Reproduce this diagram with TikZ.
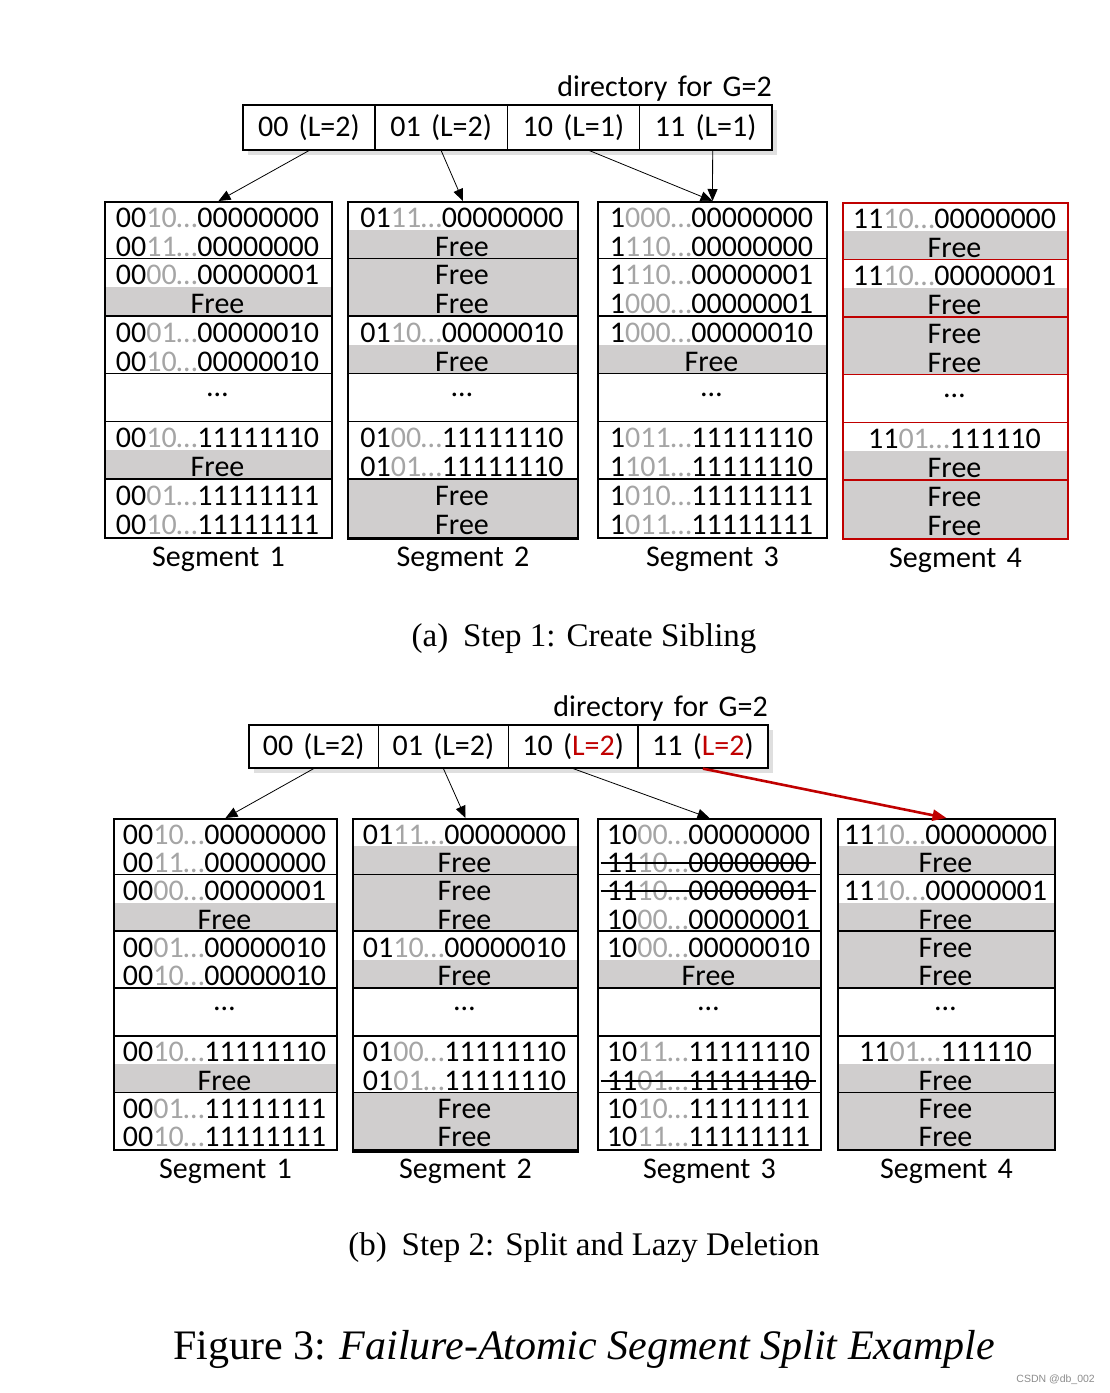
\documentclass[tikz,border=0pt]{standalone}
\usepackage{fontspec}
\usepackage{xcolor}
\usepackage{tikz}
\usetikzlibrary{arrows.meta,positioning,shadows}
\setmainfont{Liberation Serif}
\newfontfamily\calfont[WordSpace=1.5]{Carlito}
\newfontfamily\wmfont{Liberation Sans}
\definecolor{freeGray}{RGB}{208,206,206}
\definecolor{keyGray}{RGB}{165,165,165}
\definecolor{splitRed}{RGB}{192,0,0}
\definecolor{wmGray}{RGB}{140,140,140}

% key text: black prefix, gray hash bits, suffix
\newcommand{\kt}[3]{#1\textcolor{keyGray}{#2…}#3}
% name, x left, x right, y top, slot height, colour, label, slots
\newcommand{\drawsegment}[8]{%
  \foreach \kind/\txt [count=\i] in {#8} {
    \pgfmathsetmacro\st{#4+(\i-1)*#5+(\i>7)*(48-#5)}
    \pgfmathsetmacro\sb{\st+#5+(\i==7)*(48-#5)}
    \if f\kind \fill[freeGray] (#2,\st) rectangle (#3,\sb); \fi
    \if d\kind
      \node[segText] (#1-\i) at ({(#2+#3)/2},{(\st+\sb)/2-3}) {\txt};
    \else
      \node[segText, anchor=base] (#1-\i) at ({(#2+#3)/2},{(\st+\sb)/2+12}) {\txt};
    \fi
    \if s\kind
      \draw[strikeLine] ([xshift=-6pt,yshift=9.5pt]#1-\i.base west) -- ([xshift=6pt,yshift=9.5pt]#1-\i.base east);
    \fi
  }
  \foreach \g in {2,4,6,7,9} {
    \pgfmathsetmacro\sy{#4+\g*#5+(\g>6)*(48-#5)}
    \draw[#6, line width=1.6pt] (#2,\sy) -- (#3,\sy);
  }
  \node[segFrame, draw=#6, minimum width={#3-#2}, minimum height={10*#5+48}] (#1) at (#2,#4) {};
  \node[segText, below=8pt of #1] (#1-lab) {#7};
}

\begin{document}
\begin{tikzpicture}[x=1pt, y=-1pt,
  segText/.style={font=\calfont\fontsize{30}{30}\selectfont, inner sep=0pt},
  segFrame/.style={draw, line width=2pt, inner sep=0pt, anchor=north west},
  dirCell/.style={draw, fill=white, line width=1.6pt, inner sep=0pt, anchor=north west,
    font=\calfont\fontsize{30}{30}\selectfont,
    drop shadow={opacity=0.25, shadow xshift=5pt, shadow yshift=-5pt}},
  strikeLine/.style={line width=1.8pt},
  link/.style={-{Triangle[length=12pt,width=10pt]}, line width=0.8pt},
  redLink/.style={-{Triangle[length=14pt,width=11pt]}, splitRed, line width=2.6pt},
  capText/.style={font=\fontsize{33}{33}\selectfont, inner sep=0pt, anchor=base}]
\useasboundingbox (0,0) rectangle (1110,1393);

% (a) step 1
\node[segText, anchor=base east] (dirA) at (772,96) {directory for G=2};
\foreach \lab [count=\i] in {00 (L=2),01 (L=2),10 (L=1),11 (L=1)}
  \node[dirCell, minimum width=132.25pt, minimum height=45pt] (da\i) at ({242+(\i-1)*132.25},104) {\lab};

\drawsegment{a1}{104}{331}{201}{28.75}{black}{Segment 1}{%
  k/\kt{00}{10}{00000000}, k/\kt{00}{11}{00000000},
  k/\kt{00}{00}{00000001}, f/Free,
  k/\kt{00}{01}{00000010}, k/\kt{00}{10}{00000010},
  d/…,
  k/\kt{00}{10}{11111110}, f/Free,
  k/\kt{00}{01}{11111111}, k/\kt{00}{10}{11111111}}
\drawsegment{a2}{347}{577}{201}{28.75}{black}{Segment 2}{%
  k/\kt{01}{11}{00000000}, f/Free,
  f/Free, f/Free,
  k/\kt{01}{10}{00000010}, f/Free,
  d/…,
  k/\kt{01}{00}{11111110}, k/\kt{01}{01}{11111110},
  f/Free, f/Free}
\draw[line width=3pt] (a2.south west) -- (a2.south east);
\drawsegment{a3}{597}{826}{201}{28.75}{black}{Segment 3}{%
  k/\kt{1}{000}{00000000}, k/\kt{1}{110}{00000000},
  k/\kt{1}{110}{00000001}, k/\kt{1}{000}{00000001},
  k/\kt{1}{000}{00000010}, f/Free,
  d/…,
  k/\kt{1}{011}{11111110}, k/\kt{1}{101}{11111110},
  k/\kt{1}{010}{11111111}, k/\kt{1}{011}{11111111}}
\drawsegment{a4}{842}{1067}{202}{28.75}{splitRed}{Segment 4}{%
  k/\kt{11}{10}{00000000}, f/Free,
  k/\kt{11}{10}{00000001}, f/Free,
  f/Free, f/Free,
  d/…,
  k/\kt{11}{01}{111110}, f/Free,
  f/Free, f/Free}

\draw[link] (da1.south) -- (a1.north);
\draw[link] (da2.south) -- (a2.north);
\draw[link] ([xshift=16pt]da3.south) -- (a3.north);
\draw[link] ([xshift=7pt]da4.south) -- (a3.north);

\node[capText] (capA) at (584,646) {(a)\hspace{0.45em}Step 1: Create Sibling};

% (b) step 2
\node[segText, anchor=base east] (dirB) at (768,716) {directory for G=2};
\foreach \lab [count=\i] in {00 (L=2),01 (L=2),10 (\textcolor{splitRed}{L=2}),11 (\textcolor{splitRed}{L=2})}
  \node[dirCell, minimum width=129.75pt, minimum height=43pt] (db\i) at ({248+(\i-1)*129.75},724) {\lab};

\drawsegment{b1}{113}{336}{818}{28.3}{black}{Segment 1}{%
  k/\kt{00}{10}{00000000}, k/\kt{00}{11}{00000000},
  k/\kt{00}{00}{00000001}, f/Free,
  k/\kt{00}{01}{00000010}, k/\kt{00}{10}{00000010},
  d/…,
  k/\kt{00}{10}{11111110}, f/Free,
  k/\kt{00}{01}{11111111}, k/\kt{00}{10}{11111111}}
\drawsegment{b2}{352}{577}{818}{28.3}{black}{Segment 2}{%
  k/\kt{01}{11}{00000000}, f/Free,
  f/Free, f/Free,
  k/\kt{01}{10}{00000010}, f/Free,
  d/…,
  k/\kt{01}{00}{11111110}, k/\kt{01}{01}{11111110},
  f/Free, f/Free}
\draw[line width=3pt] (b2.south west) -- (b2.south east);
\drawsegment{b3}{597}{820}{818}{28.3}{black}{Segment 3}{%
  k/\kt{10}{00}{00000000}, s/\kt{11}{10}{00000000},
  s/\kt{11}{10}{00000001}, k/\kt{10}{00}{00000001},
  k/\kt{10}{00}{00000010}, f/Free,
  d/…,
  k/\kt{10}{11}{11111110}, s/\kt{11}{01}{11111110},
  k/\kt{10}{10}{11111111}, k/\kt{10}{11}{11111111}}
\drawsegment{b4}{837}{1054}{818}{28.3}{black}{Segment 4}{%
  k/\kt{11}{10}{00000000}, f/Free,
  k/\kt{11}{10}{00000001}, f/Free,
  f/Free, f/Free,
  d/…,
  k/\kt{11}{01}{111110}, f/Free,
  f/Free, f/Free}

\draw[link] (db1.south) -- (b1.north);
\draw[link] (db2.south) -- (b2.north);
\draw[link] (db3.south) -- (b3.north);
\draw[redLink] (db4.south) -- (b4.north);

\node[capText] (capB) at (584,1255) {(b)\hspace{0.45em}Step 2: Split and Lazy Deletion};

\node[font=\fontsize{42}{42}\selectfont, inner sep=0pt, anchor=base] (figCap) at (584,1359) {Figure 3: \textit{Failure-Atomic Segment Split Example}};
\node[font=\wmfont\fontsize{10.5}{10.5}\selectfont, text=wmGray, inner sep=0pt, anchor=base east] (mark) at (1095,1382) {CSDN @db\_002};
\end{tikzpicture}
\end{document}
